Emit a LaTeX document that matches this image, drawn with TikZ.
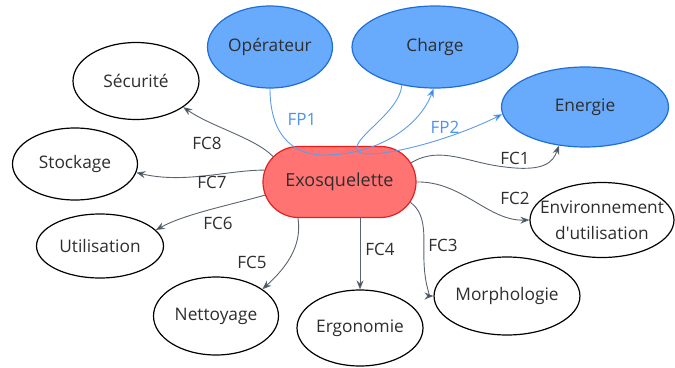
\documentclass[tikz,border=0pt]{standalone}
\usepackage{fontspec}
\setmainfont{Open Sans}
\usetikzlibrary{shapes.geometric,shapes.misc,arrows.meta}
\definecolor{bluefill}{HTML}{68AAFB}
\definecolor{blueline}{HTML}{1F6FD8}
\definecolor{blueedge}{HTML}{5C9CEA}
\definecolor{bluetip}{HTML}{1A6EE0}
\definecolor{bluetxt}{HTML}{4E94E6}
\definecolor{exofill}{HTML}{FF7373}
\definecolor{exoline}{HTML}{E3211F}
\definecolor{edgecol}{HTML}{5A6470}
\definecolor{tipcol}{HTML}{3A4350}
\definecolor{txt}{HTML}{2E2E2E}
\begin{document}
\begin{tikzpicture}[x=1pt,y=-1pt,
  ell/.style={ellipse,draw=black,line width=1.2pt,fill=white,inner sep=0pt,
    font=\fontsize{17.3}{20}\selectfont,text=txt,align=center},
  bell/.style={ell,fill=bluefill,draw=blueline},
  exobox/.style={rounded rectangle,draw=exoline,line width=1.2pt,fill=exofill,
    minimum width=153pt,minimum height=71pt,inner sep=0pt,
    font=\fontsize{18}{20}\selectfont,text=txt},
  fc/.style={draw=edgecol,line width=0.9pt,-{Stealth[length=9pt,width=7pt,fill=tipcol]}},
  fp/.style={draw=blueedge,line width=0.9pt,-{Stealth[length=9pt,width=7pt,fill=bluetip]}},
  lbl/.style={font=\fontsize{17}{20}\selectfont,text=txt,inner sep=0pt},
  blbl/.style={lbl,text=bluetxt}]
\useasboundingbox (0,0) rectangle (675,367);

% nodes
\node[bell,minimum width=125pt,minimum height=82pt] (op) at (270,47) {Opérateur};
\node[bell,minimum width=166pt,minimum height=82pt] (ch) at (435,47) {Charge};
\node[bell,minimum width=167pt,minimum height=80pt] (ener) at (585,107) {Energie};
\node[exobox] (exo) at (339.5,182) {Exosquelette};
\node[ell,minimum width=126pt,minimum height=77pt] (sec) at (136,81) {Sécurité};
\node[ell,minimum width=125pt,minimum height=72pt] (stock) at (75,164) {Stockage};
\node[ell,minimum width=127pt,minimum height=64pt] (util) at (100,246) {Utilisation};
\node[ell,minimum width=125pt,minimum height=78pt] (nett) at (216,316) {Nettoyage};
\node[ell,minimum width=126pt,minimum height=76pt] (ergo) at (360,328) {Ergonomie};
\node[ell,minimum width=126pt,minimum height=78pt] (morph) at (507,296) {Morphologie};
\node[ell,minimum width=144pt,minimum height=75pt,inner xsep=-14pt,
  font=\fontsize{17.3}{26}\selectfont] (env) at (602,220) {Environnement\\d\textquotesingle utilisation};

% FC connectors
\draw[fc] (exo.159) .. controls (255,138) and (212,127) .. (sec.-29);
\draw[fc] (exo.171) .. controls (228,170) and (185,184) .. (stock.-8);
\draw[fc] (exo.190) .. controls (230,205) and (185,214) .. (util.16);
\draw[fc] (exo.221) .. controls (302,245) and (288,266) .. (nett.30);
\draw[fc] (ergo.north |- exo.south) -- (ergo.north);
\draw[fc] (exo.344) .. controls (428,215) and (423,240) .. (424,262)
  .. controls (425,290) and (432,296) .. (morph.west);
\draw[fc] (exo.east) .. controls (462,181) and (488,221) .. (env.west);
\draw[fc] (exo.15) .. controls (440,145) and (468,163) .. (505,167)
  .. controls (545,172) and (553,162) .. (ener.236);

% FP connectors
\draw[fp] (op.south) .. controls (270,132) and (290,156) .. (327,155)
  .. controls (380,154) and (420,125) .. (ch.-92);
\draw[fp] (ch.-131) .. controls (400,112) and (352,138) .. (357,150)
  .. controls (362,162) and (440,145) .. (ener.185);

% labels
\node[blbl] (fp1) at (302,119) {FP1};
\node[blbl] (fp2) at (445,127) {FP2};
\node[lbl] (fc1) at (515,158) {FC1};
\node[lbl] (fc2) at (515,198) {FC2};
\node[lbl] (fc3) at (443,245) {FC3};
\node[lbl] (fc4) at (380,249) {FC4};
\node[lbl] (fc5) at (252,262) {FC5};
\node[lbl] (fc6) at (218,223) {FC6};
\node[lbl] (fc7) at (212,182) {FC7};
\node[lbl] (fc8) at (207,143) {FC8};
\end{tikzpicture}
\end{document}
